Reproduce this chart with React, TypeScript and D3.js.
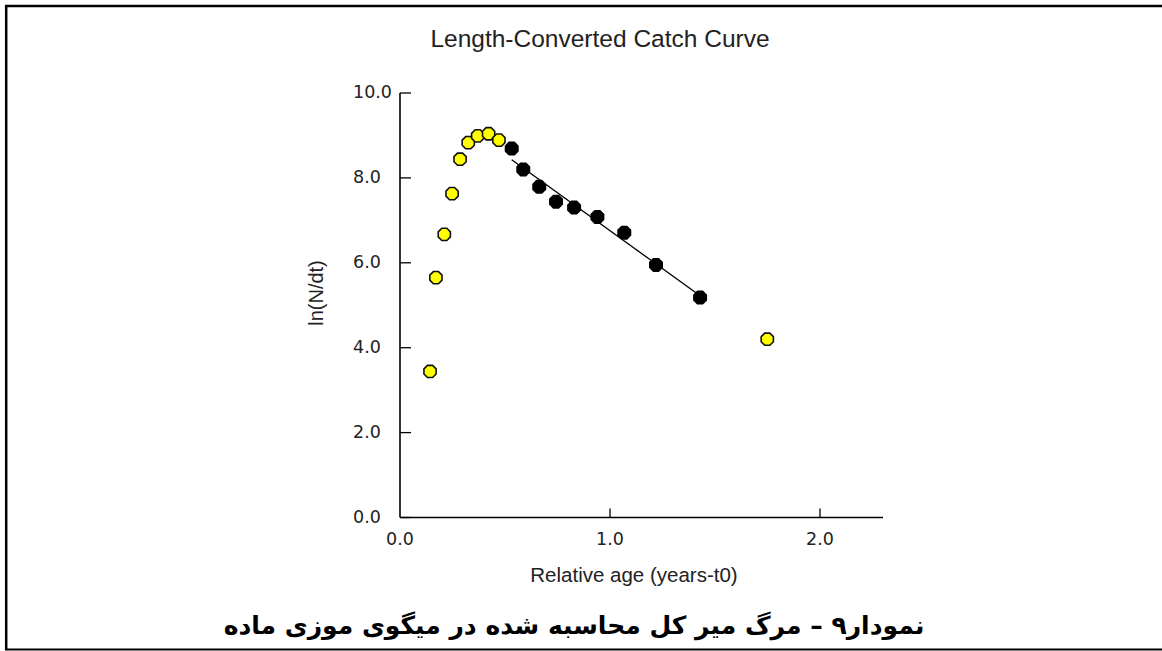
import React from "react";
import * as d3 from "d3";

const yellowAge = [0.143, 0.171, 0.211, 0.248, 0.286, 0.325, 0.37, 0.422, 0.471, 1.749];
const yellowLn = [3.44, 5.65, 6.67, 7.63, 8.44, 8.83, 8.99, 9.04, 8.89, 4.2];
const blackAge = [0.532, 0.587, 0.663, 0.743, 0.829, 0.94, 1.068, 1.219, 1.429];
const blackLn = [8.69, 8.2, 7.79, 7.44, 7.3, 7.08, 6.71, 5.95, 5.18];
const xTicks = [0, 1, 2];
const yTicks = [0, 2, 4, 6, 8, 10];

const W = 1162;
const H = 651;

function octagon(cx: number, cy: number, r: number) {
  const pts: string[] = [];
  for (let i = 0; i < 8; i++) {
    const a = (Math.PI / 8) * (2 * i + 1);
    pts.push(`${cx + r * Math.cos(a)},${cy + r * Math.sin(a)}`);
  }
  return pts.join(" ");
}

export default function App() {
  const x = d3.scaleLinear().domain([0, 2.3]).range([400, 883]);
  const y = d3.scaleLinear().domain([0, 10]).range([517.5, 93]);

  // least squares regression on black points
  const n = blackAge.length;
  const mx = d3.mean(blackAge) as number;
  const my = d3.mean(blackLn) as number;
  let sxy = 0, sxx = 0;
  for (let i = 0; i < n; i++) {
    sxy += (blackAge[i] - mx) * (blackLn[i] - my);
    sxx += (blackAge[i] - mx) ** 2;
  }
  const b = sxy / sxx;
  const a = my - b * mx;
  const x0 = blackAge[0];
  const x1 = blackAge[n - 1];
  const line = d3.line<[number, number]>().x((d) => x(d[0])).y((d) => y(d[1]));
  const regPath = line([[x0, a + b * x0], [x1, a + b * x1]]) || "";

  const arial = "'Liberation Sans', Arial, sans-serif";
  const tickFont = "'DejaVu Sans', Verdana, sans-serif";
  const r = 6.6;

  return (
    <svg
      width={W}
      height={H}
      style={{ position: "absolute", left: 0, top: 0, background: "#fff" }}
    >
      <rect x={0} y={0} width={W} height={H} fill="#fff" />
      {/* frame */}
      <line x1={5} y1={6} x2={W} y2={6} stroke="#000" strokeWidth={2.5} />
      <line x1={6.2} y1={5} x2={6.2} y2={650} stroke="#000" strokeWidth={2.5} />
      <line x1={5} y1={649.5} x2={W} y2={649.5} stroke="#000" strokeWidth={2} />

      {/* title */}
      <text x={600} y={47} textAnchor="middle" fontFamily={arial} fontSize={24.5} fill="#222">
        Length-Converted Catch Curve
      </text>

      {/* axes */}
      <line x1={x(0)} y1={y(10)} x2={x(0)} y2={y(0)} stroke="#000" strokeWidth={1.6} />
      <line x1={x(0)} y1={y(0)} x2={x(2.3)} y2={y(0)} stroke="#000" strokeWidth={1.6} />
      {yTicks.map((t) => (
        <g key={"y" + t}>
          <line x1={x(0)} x2={x(0) + 11} y1={y(t)} y2={y(t)} stroke="#000" strokeWidth={1.3} />
          <text
            x={353}
            y={y(t) + 5}
            textAnchor="start"
            fontFamily={tickFont}
            fontSize={17.5}
            fill="#222"
          >
            {t.toFixed(1)}
          </text>
        </g>
      ))}
      {xTicks.map((t) => (
        <g key={"x" + t}>
          {t > 0 && (
            <line x1={x(t)} x2={x(t)} y1={y(0)} y2={y(0) - 9} stroke="#000" strokeWidth={1.3} />
          )}
          <text
            x={x(t)}
            y={545}
            textAnchor="middle"
            fontFamily={tickFont}
            fontSize={17.5}
            fill="#222"
          >
            {t.toFixed(1)}
          </text>
        </g>
      ))}
      <text
        transform={`translate(323, 293) rotate(-90)`}
        textAnchor="middle"
        fontFamily={arial}
        fontSize={20}
        fill="#222"
      >
        ln(N/dt)
      </text>
      <text x={634} y={582} textAnchor="middle" fontFamily={arial} fontSize={20.5} fill="#222">
        Relative age (years-t0)
      </text>

      {/* regression line */}
      <path d={regPath} stroke="#000" strokeWidth={1.3} fill="none" />

      {/* points */}
      {yellowAge.map((v, i) => (
        <polygon
          key={"yl" + i}
          points={octagon(x(v), y(yellowLn[i]), r)}
          fill="#ffff00"
          stroke="#111"
          strokeWidth={1.6}
        />
      ))}
      {blackAge.map((v, i) => (
        <polygon
          key={"bk" + i}
          points={octagon(x(v), y(blackLn[i]), r)}
          fill="#000"
          stroke="#000"
          strokeWidth={1.8}
        />
      ))}

      {/* caption */}
      <text
        x={574}
        y={634}
        textAnchor="middle"
        direction="rtl"
        fontFamily="'DejaVu Sans', 'Noto Sans', sans-serif"
        fontWeight="bold"
        fontSize={25}
        fill="#000"
      >
        نمودار۹ – مرگ میر کل محاسبه شده در میگوی موزی ماده
      </text>
    </svg>
  );
}
